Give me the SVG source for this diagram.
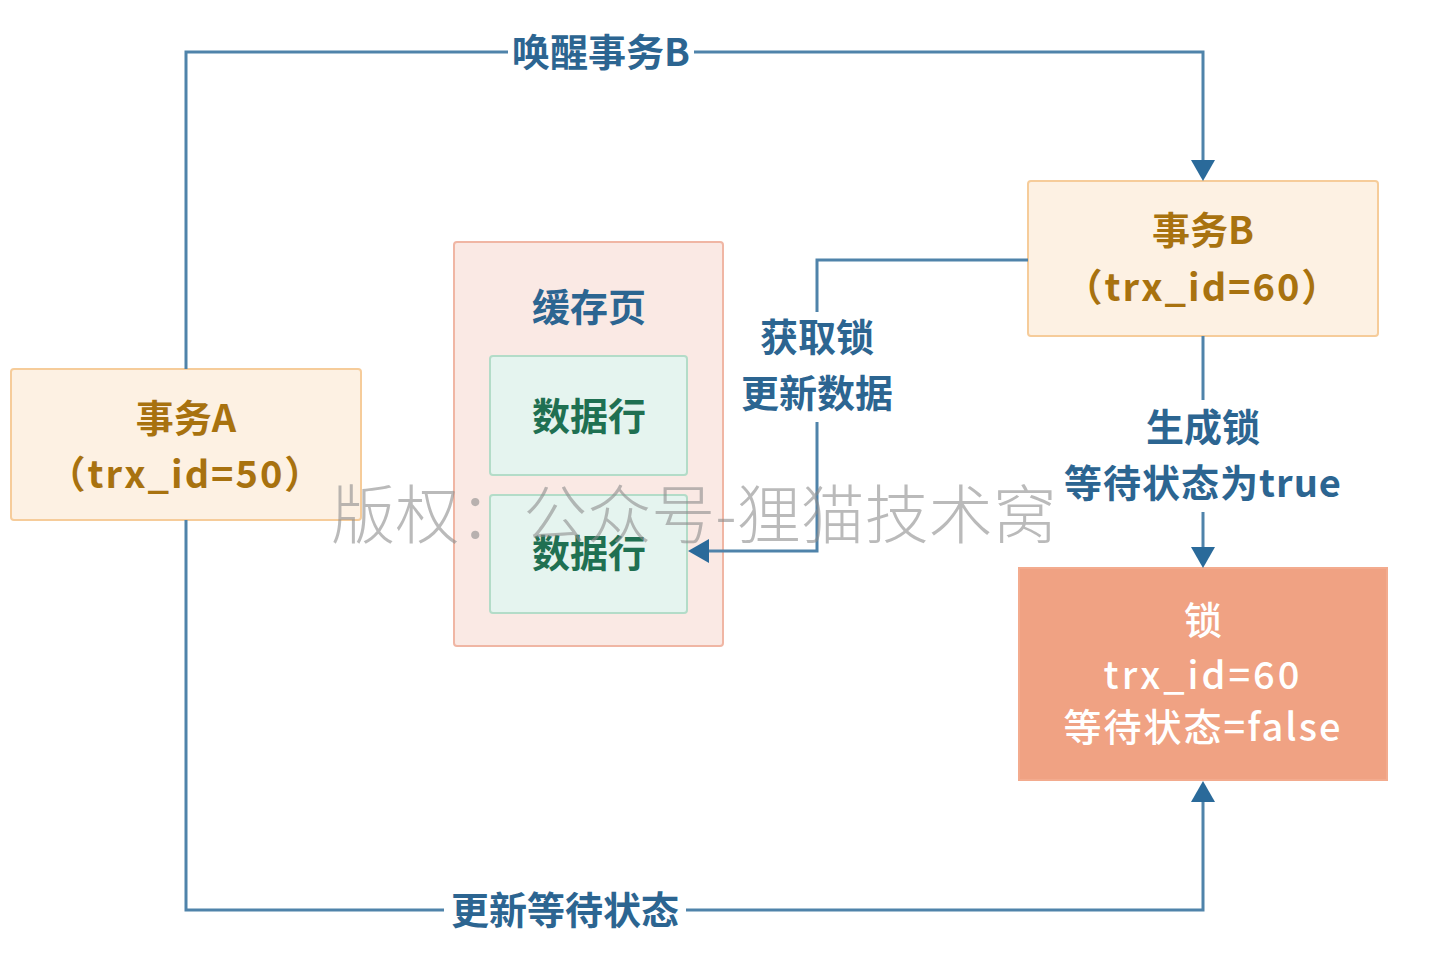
<svg xmlns="http://www.w3.org/2000/svg" width="1432" height="954" viewBox="0 0 1432 954">
<style>
.t{font-family:"Noto Sans CJK SC","Noto Sans",sans-serif;font-weight:700;font-size:38px;text-anchor:middle}
.tx{fill:#a8720f}
.bl{fill:#2c6591}
.gr{fill:#1f7052}
.wh{fill:#ffffff;font-weight:500}
.txn{fill:#fdf1e3;stroke:#f6cc9a;stroke-width:2}
.ln{fill:none;stroke:#4f83aa;stroke-width:3}
.ah{fill:#2a6a9a}
.lbg{fill:#ffffff}
</style>
<rect width="1432" height="954" fill="#ffffff"/>
<g id="txA">
<rect class="txn" x="11" y="369" width="350" height="151" rx="3"/>
<text class="t tx" x="186" y="432">事务A</text>
<text class="t tx" x="186" y="488" letter-spacing="2">（trx_id=50）</text>
</g>
<g id="cachePage">
<rect x="454" y="242" width="269" height="404" rx="3" fill="#fae9e4" stroke="#f0b6a4" stroke-width="2"/>
<text class="t bl" x="589" y="321">缓存页</text>
</g>
<g id="row1">
<rect x="490" y="356" width="197" height="119" rx="3" fill="#e5f4ef" stroke="#b3dcc8" stroke-width="2"/>
<text class="t gr" x="589" y="430">数据行</text>
</g>
<g id="row2">
<rect x="490" y="495" width="197" height="118" rx="3" fill="#e5f4ef" stroke="#b3dcc8" stroke-width="2"/>
<text class="t gr" x="589" y="567">数据行</text>
</g>
<g id="txB">
<rect class="txn" x="1028" y="181" width="350" height="155" rx="3"/>
<text class="t tx" x="1203" y="244">事务B</text>
<text class="t tx" x="1203" y="301" letter-spacing="2">（trx_id=60）</text>
</g>
<g id="lock">
<rect x="1019" y="568" width="368" height="212" fill="#f0a283" stroke="#f3ab8e" stroke-width="2"/>
<text class="t wh" x="1203" y="634">锁</text>
<text class="t wh" x="1203" y="689" letter-spacing="3">trx_id=60</text>
<text class="t wh" x="1203" y="741" letter-spacing="2">等待状态=false</text>
</g>
<g id="connectors">
<path class="ln" d="M186,369 V52 H1203 V160"/>
<path class="ah" d="M1191,160 L1215,160 L1203,181 Z"/>
<path class="ln" d="M186,520 V910 H1203 V802"/>
<path class="ah" d="M1191,802 L1215,802 L1203,781 Z"/>
<path class="ln" d="M1028,260 H817 V551 H708"/>
<path class="ah" d="M709,539 L709,563 L688,551 Z"/>
<path class="ln" d="M1203,336 V548"/>
<path class="ah" d="M1191,547 L1215,547 L1203,568 Z"/>
<rect class="lbg" x="508" y="28" width="186" height="48"/>
<text class="t bl" x="601" y="66">唤醒事务B</text>
<rect class="lbg" x="444" y="886" width="242" height="48"/>
<text class="t bl" x="565" y="924">更新等待状态</text>
<rect class="lbg" x="734" y="312" width="166" height="110"/>
<text class="t bl" x="817" y="351">获取锁</text>
<text class="t bl" x="817" y="407">更新数据</text>
<rect class="lbg" x="1058" y="400" width="290" height="112"/>
<text class="t bl" x="1203" y="441">生成锁</text>
<text class="t bl" x="1203" y="497" letter-spacing="1">等待状态为true</text>
</g>
<g id="watermark">
<text x="694" y="538" font-family="Noto Sans CJK SC,sans-serif" font-weight="300" font-size="64" fill="#8c8c8c" fill-opacity="0.6" text-anchor="middle">版权：公众号-狸猫技术窝</text>
</g>
</svg>
